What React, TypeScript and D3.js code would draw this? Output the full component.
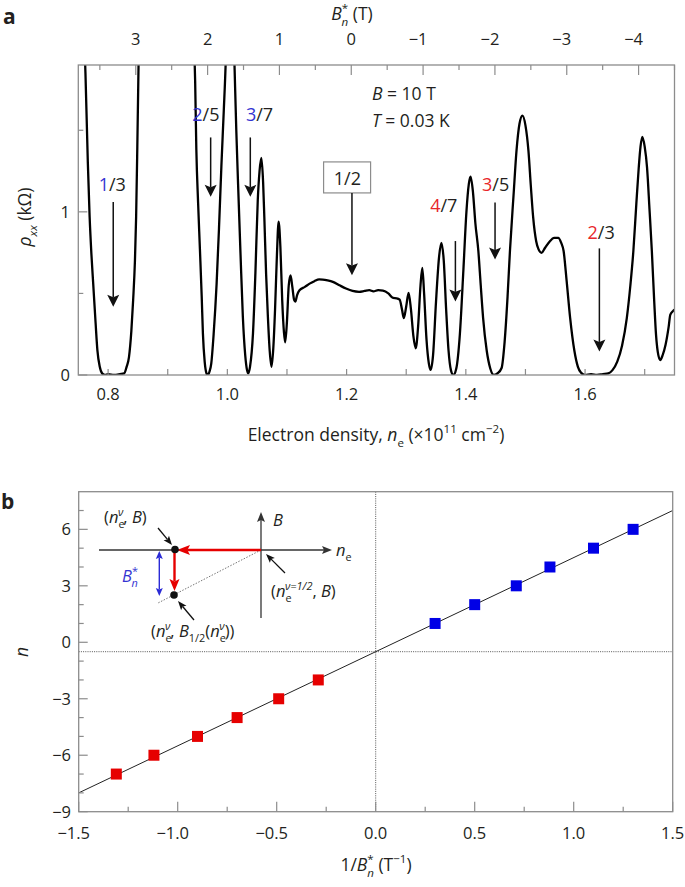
import React from "react";
import * as d3 from "d3";

// ---------- Panel a data: rho_xx vs electron density ----------
const densityValues = [
  0.750, 0.757, 0.762, 0.766, 0.769, 0.772, 0.775, 0.779, 0.782, 0.786, 0.790, 0.795, 0.800, 0.810, 0.820, 0.827,
  0.831, 0.835, 0.839, 0.842, 0.845, 0.847, 0.849, 0.851, 0.853, 0.858, 0.900, 0.938, 0.943, 0.946, 0.948, 0.951,
  0.954, 0.957, 0.959, 0.962, 0.965, 0.967, 0.970, 0.973, 0.977, 0.982, 0.986, 0.990, 0.994, 0.997, 1.000, 1.005,
  1.009, 1.012, 1.015, 1.018, 1.022, 1.026, 1.030, 1.033, 1.035, 1.038, 1.043, 1.047, 1.051, 1.054, 1.057, 1.060,
  1.062, 1.065, 1.068, 1.071, 1.074, 1.077, 1.080, 1.083, 1.086, 1.089, 1.092, 1.095, 1.097, 1.100, 1.103, 1.106,
  1.109, 1.112, 1.114, 1.117, 1.121, 1.130, 1.138, 1.146, 1.154, 1.160, 1.168, 1.177, 1.188, 1.199, 1.210, 1.221,
  1.230, 1.238, 1.245, 1.253, 1.261, 1.270, 1.278, 1.284, 1.289, 1.293, 1.296, 1.300, 1.304, 1.308, 1.312, 1.316,
  1.320, 1.324, 1.327, 1.330, 1.334, 1.338, 1.341, 1.345, 1.350, 1.355, 1.359, 1.363, 1.367, 1.371, 1.375, 1.379,
  1.384, 1.390, 1.396, 1.401, 1.405, 1.408, 1.412, 1.416, 1.421, 1.425, 1.429, 1.435, 1.441, 1.447, 1.453, 1.460,
  1.465, 1.470, 1.474, 1.480, 1.485, 1.490, 1.495, 1.500, 1.505, 1.509, 1.513, 1.518, 1.522, 1.527, 1.533, 1.541,
  1.548, 1.555, 1.560, 1.564, 1.569, 1.575, 1.582, 1.588, 1.593, 1.600, 1.610, 1.620, 1.630, 1.639, 1.646, 1.654,
  1.662, 1.670, 1.676, 1.681, 1.686, 1.690, 1.693, 1.696, 1.700, 1.704, 1.708, 1.712, 1.716, 1.719, 1.722, 1.726,
  1.730, 1.735, 1.740, 1.743, 1.748, 1.750,
];
const rhoValues = [
  2.80, 2.30, 1.85, 1.30, 0.97, 0.74, 0.56, 0.32, 0.153, 0.05, 0.01, 0.0, 0.005, 0.0, 0.005, 0.01,
  0.05, 0.11, 0.27, 0.46, 0.70, 0.97, 1.40, 1.89, 2.40, 3.00, 4.00, 3.00, 2.20, 1.80, 1.38, 1.05,
  0.77, 0.48, 0.255, 0.08, 0.01, 0.0, 0.02, 0.07, 0.25, 0.56, 0.90, 1.28, 1.62, 1.89, 2.30, 2.60,
  2.30, 1.90, 1.50, 1.17, 0.75, 0.357, 0.12, 0.03, 0.01, 0.05, 0.255, 0.62, 1.07, 1.25, 1.33, 1.18,
  0.97, 0.62, 0.357, 0.15, 0.05, 0.16, 0.40, 0.72, 0.94, 0.78, 0.46, 0.26, 0.20, 0.33, 0.55, 0.61,
  0.54, 0.46, 0.45, 0.49, 0.52, 0.54, 0.56, 0.575, 0.586, 0.585, 0.58, 0.571, 0.55, 0.53, 0.515, 0.51,
  0.515, 0.52, 0.513, 0.52, 0.517, 0.50, 0.472, 0.47, 0.462, 0.40, 0.349, 0.42, 0.503, 0.40, 0.24, 0.164,
  0.30, 0.55, 0.656, 0.50, 0.22, 0.07, 0.031, 0.12, 0.45, 0.72, 0.81, 0.70, 0.40, 0.15, 0.03, 0.0,
  0.04, 0.25, 0.65, 1.00, 1.17, 1.215, 1.12, 0.93, 0.76, 0.55, 0.349, 0.15, 0.04, 0.0, 0.01, 0.043,
  0.20, 0.48, 0.76, 1.10, 1.375, 1.54, 1.59, 1.53, 1.375, 1.16, 0.964, 0.82, 0.77, 0.749, 0.78, 0.82,
  0.84, 0.841, 0.81, 0.76, 0.58, 0.349, 0.15, 0.05, 0.015, 0.0, 0.005, 0.0, 0.005, 0.01, 0.03, 0.082,
  0.18, 0.349, 0.55, 0.76, 1.05, 1.27, 1.40, 1.46, 1.40, 1.27, 1.02, 0.76, 0.45, 0.247, 0.14, 0.092,
  0.12, 0.185, 0.29, 0.37, 0.394, 0.40,
];
const densityDomain = [0.75, 1.75];
const rhoDomain = [0, 1.9];
const densityTickLabels = [0.8, 1.0, 1.2, 1.4, 1.6];
const densityMinorTicks = [0.8, 0.9, 1.0, 1.1, 1.2, 1.3, 1.4, 1.5, 1.6, 1.7];
const rhoTickLabels = [0, 1];
const rhoMinorTicks = [0.5, 1.5];
const bStarDomain = [3.8, -4.5];
const bStarTickLabels = [3, 2, 1, 0, -1, -2, -3, -4];
const bStarMinorTicks = [3.5, 2.5, 1.5, 0.5, -0.5, -1.5, -2.5, -3.5, -4.5];

// fraction annotations (arrow x in density, arrow start/end in rho, label position)
const fracNumer = ["1", "2", "3", "4", "3", "2"];
const fracDenom = ["3", "5", "7", "7", "5", "3"];
const fracNumerColor = ["blue", "blue", "blue", "red", "red", "red"];
const fracArrowX = [0.8086, 0.972, 1.0385, 1.3825, 1.449, 1.624];
const fracArrowFrom = [1.061, 1.456, 1.456, 0.821, 1.057, 0.776];
const fracArrowTo = [0.418, 1.092, 1.092, 0.451, 0.708, 0.144];
const fracLabelX = [0.807, 0.964, 1.054, 1.363, 1.45, 1.627];
const fracLabelY = [1.127, 1.555, 1.555, 0.999, 1.128, 0.834];

// ---------- Panel b data ----------
const invBStarRed = [-1.31, -1.12, -0.9, -0.7, -0.49, -0.29];
const nRed = [-7, -6, -5, -4, -3, -2];
const invBStarBlue = [0.3, 0.5, 0.71, 0.88, 1.1, 1.3];
const nBlue = [1, 2, 3, 4, 5, 6];
const fitX = [-1.5, 1.5];
const fitN = [-8, 7];
const bXDomain = [-1.5, 1.5];
const bYDomain = [-9, 8];
const bXTickLabels = [-1.5, -1.0, -0.5, 0, 0.5, 1.0, 1.5];
const bXMinorTicks = [-1.25, -0.75, -0.25, 0.25, 0.75, 1.25];
const bYTickLabels = [-9, -6, -3, 0, 3, 6];
const bYMinorTicks = [-8, -7, -5, -4, -2, -1, 1, 2, 4, 5, 7];
const dottedX = 0;
const dottedY = -0.5;

const FONT = "'Open Sans', 'Noto Sans', 'DejaVu Sans', sans-serif";
const TXT = "#231f20";
const FRAME = "#8c8c8c";
const BLUE_TXT = "#3434d2";
const RED_TXT = "#e8262b";
const RED = "#e60000";
const BLUE = "#0000e6";
const TICK_FS = 16.5;
const TITLE_FS = 17.5;

const minus = (v: number, digits: number) => {
  const s = Math.abs(v).toFixed(digits);
  return v < 0 ? "\u2212" + s : s;
};

type Part = { t: string; i?: boolean; p?: "sub" | "sup"; dx?: number; fill?: string };
function Rich(props: {
  x: number; y: number; parts: Part[]; size?: number; anchor?: string; fill?: string; transform?: string;
}) {
  const { x, y, parts, size = 16, anchor = "start", fill = TXT, transform } = props;
  let cur = 0;
  return (
    <text x={x} y={y} fontSize={size} textAnchor={anchor} fill={fill} transform={transform} fontFamily={FONT}>
      {parts.map((p, k) => {
        const target = p.p === "sub" ? size * 0.32 : p.p === "sup" ? -size * 0.45 : 0;
        const dy = target - cur;
        cur = target;
        return (
          <tspan key={k} dy={dy} dx={p.dx} fontStyle={p.i ? "italic" : undefined}
            fontSize={p.p ? size * 0.66 : undefined} fill={p.fill}>{p.t}</tspan>
        );
      })}
    </text>
  );
}

function Arrow(props: {
  x1: number; y1: number; x2: number; y2: number; color?: string; width?: number; hl?: number; hw?: number; both?: boolean;
}) {
  const { x1, y1, x2, y2, color = "#111", width = 1.5, hl = 11, hw = 12, both = false } = props;
  const dx = x2 - x1, dy = y2 - y1;
  const L = Math.hypot(dx, dy);
  const ux = dx / L, uy = dy / L;
  const px = -uy, py = ux;
  const head = (tx: number, ty: number, sx: number, sy: number) => {
    const bx = tx - sx * hl, by = ty - sy * hl;
    const nx = tx - sx * hl * 0.8, ny = ty - sy * hl * 0.8;
    return `M${tx},${ty}L${bx + px * hw / 2},${by + py * hw / 2}L${nx},${ny}L${bx - px * hw / 2},${by - py * hw / 2}Z`;
  };
  const sx1 = both ? x1 + ux * hl * 0.8 : x1;
  const sy1 = both ? y1 + uy * hl * 0.8 : y1;
  return (
    <g>
      <line x1={sx1} y1={sy1} x2={x2 - ux * hl * 0.8} y2={y2 - uy * hl * 0.8} stroke={color} strokeWidth={width} />
      <path d={head(x2, y2, ux, uy)} fill={color} />
      {both && <path d={head(x1, y1, -ux, -uy)} fill={color} />}
    </g>
  );
}

function PanelA() {
  const L = 78.3, R = 674.5, T = 65, B = 375;
  const x = d3.scaleLinear().domain(densityDomain).range([L, R]);
  const y = d3.scaleLinear().domain(rhoDomain).range([B, T]);
  const xTop = d3.scaleLinear().domain(bStarDomain).range([L, R]);
  const pts = densityValues.map((d, i) => [d, rhoValues[i]] as [number, number]);
  const line = d3.line<[number, number]>().x((d) => x(d[0])).y((d) => y(d[1])).curve(d3.curveMonotoneX);
  return (
    <g>
      <text x={3} y={24} fontSize={21} fontWeight="bold" fontFamily={FONT} fill={TXT}>a</text>
      <defs>
        <clipPath id="clipA"><rect x={L} y={T} width={R - L} height={B - T} /></clipPath>
      </defs>
      <path d={line(pts) || ""} fill="none" stroke="#000" strokeWidth={2.3} clipPath="url(#clipA)" strokeLinejoin="round" />
      <rect x={L} y={T} width={R - L} height={B - T} fill="none" stroke={FRAME} strokeWidth={1.3} />
      {densityMinorTicks.map((v) => (
        <line key={"bx" + v} x1={x(v)} x2={x(v)} y1={B} y2={B - 6} stroke={FRAME} strokeWidth={1.2} />
      ))}
      {densityTickLabels.map((v) => (
        <text key={"bl" + v} x={x(v)} y={400} fontSize={TICK_FS} textAnchor="middle" fontFamily={FONT} fill={TXT}>{v.toFixed(1)}</text>
      ))}
      {rhoTickLabels.map((v) => (
        <g key={"ly" + v}>
          <line x1={L} x2={L + 9} y1={y(v)} y2={y(v)} stroke={FRAME} strokeWidth={1.2} />
          <text x={70} y={y(v) + 6} fontSize={TICK_FS} textAnchor="end" fontFamily={FONT} fill={TXT}>{v}</text>
        </g>
      ))}
      {rhoMinorTicks.map((v) => (
        <line key={"lm" + v} x1={L} x2={L + 5} y1={y(v)} y2={y(v)} stroke={FRAME} strokeWidth={1.2} />
      ))}
      {bStarTickLabels.map((v) => (
        <g key={"tb" + v}>
          <line x1={xTop(v)} x2={xTop(v)} y1={T} y2={T + 10} stroke={FRAME} strokeWidth={1.2} />
          <text x={xTop(v) - (v < 0 ? 5 : 0)} y={45} fontSize={TICK_FS} textAnchor="middle" fontFamily={FONT} fill={TXT}>
            {v < 0 ? "\u2212" + Math.abs(v) : String(v)}
          </text>
        </g>
      ))}
      {bStarMinorTicks.map((v) => (
        <line key={"tm" + v} x1={xTop(v)} x2={xTop(v)} y1={T} y2={T + 5} stroke={FRAME} strokeWidth={1.2} />
      ))}
      <Rich x={352} y={20} size={TITLE_FS} anchor="middle"
        parts={[{ t: "B", i: true }, { t: "*", p: "sup" }, { t: "n", i: true, p: "sub", dx: -6.5 }, { t: " (T)" }]} />
      <Rich x={376} y={441} size={TITLE_FS} anchor="middle"
        parts={[{ t: "Electron density, " }, { t: "n", i: true }, { t: "e", p: "sub" }, { t: " (\u00d710" },
          { t: "11", p: "sup" }, { t: " cm" }, { t: "\u22122", p: "sup" }, { t: ")" }]} />
      <Rich x={0} y={0} size={TITLE_FS} anchor="middle" transform="translate(31,217) rotate(-90)"
        parts={[{ t: "\u03c1", i: true }, { t: "xx", i: true, p: "sub" }, { t: " (k\u03a9)" }]} />
      <Rich x={372} y={100} size={TITLE_FS} parts={[{ t: "B", i: true }, { t: " = 10 T" }]} />
      <Rich x={372} y={127} size={TITLE_FS} parts={[{ t: "T", i: true }, { t: " = 0.03 K" }]} />
      {fracArrowX.map((v, i) => (
        <g key={"fa" + i}>
          <Arrow x1={x(v)} y1={y(fracArrowFrom[i])} x2={x(v)} y2={y(fracArrowTo[i])} width={1.5} hl={12} hw={12} />
          <text x={x(fracLabelX[i])} y={y(fracLabelY[i])} fontSize={18} textAnchor="middle" fontFamily={FONT} fill={TXT}>
            <tspan fill={fracNumerColor[i] === "blue" ? BLUE_TXT : RED_TXT}>{fracNumer[i]}</tspan>
            <tspan>/{fracDenom[i]}</tspan>
          </text>
        </g>
      ))}
      <rect x={x(1.2) - 23} y={y(1.306)} width={47} height={31} fill="#fff" stroke={FRAME} strokeWidth={1.2} />
      <text x={x(1.2) + 0.8} y={y(1.167)} fontSize={18} textAnchor="middle" fontFamily={FONT} fill={TXT}>1/2</text>
      <Arrow x1={x(1.209)} y1={y(1.116)} x2={x(1.209)} y2={y(0.612)} width={1.5} hl={12} hw={12} />
    </g>
  );
}

function Inset(props: { ox: number; oy: number }) {
  const { ox, oy } = props;
  const s = 16.5;
  return (
    <g transform={`translate(${ox},${oy})`}>
      <Arrow x1={-162} y1={0} x2={71} y2={0} color="#333" width={1.3} hl={10} hw={8} />
      <Arrow x1={0} y1={68} x2={0} y2={-38} color="#333" width={1.3} hl={10} hw={8} />
      <Rich x={12} y={-24} size={s} parts={[{ t: "B", i: true }]} />
      <Rich x={75} y={6} size={s} parts={[{ t: "n", i: true }, { t: "e", p: "sub" }]} />
      <line x1={0} y1={0} x2={-103} y2={53} stroke="#777" strokeWidth={1} strokeDasharray="1.5 1.5" />
      <Arrow x1={0} y1={0} x2={-84} y2={0} color={RED} width={2.4} hl={13} hw={10} />
      <Arrow x1={-86.5} y1={0} x2={-86.5} y2={41} color={RED} width={2.4} hl={12} hw={10} />
      <circle cx={-86} cy={-0.5} r={3.8} fill="#111" />
      <circle cx={-87} cy={45} r={3.8} fill="#111" />
      <Arrow x1={-101.7} y1={1} x2={-101.7} y2={46} color="#2b2bd6" width={1.4} hl={8} hw={7} both />
      <Rich x={-139} y={32} size={s} fill={BLUE_TXT}
        parts={[{ t: "B", i: true }, { t: "*", p: "sup" }, { t: "n", i: true, p: "sub", dx: -6.5 }]} />
      <Rich x={-157} y={-27} size={s}
        parts={[{ t: "(" }, { t: "n", i: true }, { t: "e", p: "sub" }, { t: "\u03bd", i: true, p: "sup", dx: -6.5 },
          { t: ", " }, { t: "B", i: true }, { t: ")" }]} />
      <Arrow x1={-103} y1={-22} x2={-89} y2={-5} color="#111" width={1.3} hl={9} hw={7} />
      <Rich x={10} y={47} size={s}
        parts={[{ t: "(" }, { t: "n", i: true }, { t: "e", p: "sub" }, { t: "\u03bd=1/2", i: true, p: "sup", dx: -6.5 },
          { t: ", " }, { t: "B", i: true }, { t: ")" }]} />
      <Arrow x1={24} y1={23} x2={5} y2={4} color="#111" width={1.3} hl={9} hw={7} />
      <Rich x={-110} y={87} size={s}
        parts={[{ t: "(" }, { t: "n", i: true }, { t: "e", p: "sub" }, { t: "\u03bd", i: true, p: "sup", dx: -6.5 },
          { t: ", " }, { t: "B", i: true }, { t: "1/2", p: "sub" }, { t: "(" }, { t: "n", i: true }, { t: "e", p: "sub" },
          { t: "\u03bd", i: true, p: "sup", dx: -6.5 }, { t: "))" }]} />
      <Arrow x1={-67} y1={70} x2={-83} y2={51} color="#111" width={1.3} hl={9} hw={7} />
    </g>
  );
}

function PanelB() {
  const L = 78.7, R = 672.7, T = 491.7, B = 811.7;
  const x = d3.scaleLinear().domain(bXDomain).range([L, R]);
  const y = d3.scaleLinear().domain(bYDomain).range([B, T]);
  const sq = 11;
  return (
    <g>
      <text x={1} y={509} fontSize={21} fontWeight="bold" fontFamily={FONT} fill={TXT}>b</text>
      <line x1={x(dottedX)} x2={x(dottedX)} y1={T} y2={B} stroke="#555" strokeWidth={1} strokeDasharray="1 1.2" />
      <line x1={L} x2={R} y1={y(dottedY)} y2={y(dottedY)} stroke="#555" strokeWidth={1} strokeDasharray="1 1.2" />
      <line x1={x(fitX[0])} y1={y(fitN[0])} x2={x(fitX[1])} y2={y(fitN[1])} stroke="#222" strokeWidth={1} />
      {invBStarRed.map((v, i) => (
        <rect key={"r" + i} x={x(v) - sq / 2} y={y(nRed[i]) - sq / 2} width={sq} height={sq} fill={RED} />
      ))}
      {invBStarBlue.map((v, i) => (
        <rect key={"b" + i} x={x(v) - sq / 2} y={y(nBlue[i]) - sq / 2} width={sq} height={sq} fill={BLUE} />
      ))}
      <rect x={L} y={T} width={R - L} height={B - T} fill="none" stroke={FRAME} strokeWidth={1.3} />
      {bXTickLabels.map((v) => (
        <g key={"bx" + v}>
          <line x1={x(v)} x2={x(v)} y1={B} y2={B - 10} stroke={FRAME} strokeWidth={1.2} />
          <text x={x(v) - (v < 0 ? 5 : 0)} y={839} fontSize={TICK_FS} textAnchor="middle" fontFamily={FONT} fill={TXT}>{minus(v, 1)}</text>
        </g>
      ))}
      {bXMinorTicks.map((v) => (
        <line key={"bxm" + v} x1={x(v)} x2={x(v)} y1={B} y2={B - 5} stroke={FRAME} strokeWidth={1.2} />
      ))}
      {bYTickLabels.map((v) => (
        <g key={"by" + v}>
          <line x1={L} x2={L + 9} y1={y(v)} y2={y(v)} stroke={FRAME} strokeWidth={1.2} />
          <text x={71} y={y(v) + 6} fontSize={TICK_FS} textAnchor="end" fontFamily={FONT} fill={TXT}>{minus(v, 0)}</text>
        </g>
      ))}
      {bYMinorTicks.map((v) => (
        <line key={"bym" + v} x1={L} x2={L + 5} y1={y(v)} y2={y(v)} stroke={FRAME} strokeWidth={1.2} />
      ))}
      <Rich x={0} y={0} size={TITLE_FS} anchor="middle" transform="translate(28,652) rotate(-90)" parts={[{ t: "n", i: true }]} />
      <Rich x={376} y={871} size={TITLE_FS} anchor="middle"
        parts={[{ t: "1/" }, { t: "B", i: true }, { t: "*", p: "sup" }, { t: "n", i: true, p: "sub", dx: -6.5 },
          { t: " (T" }, { t: "\u22121", p: "sup" }, { t: ")" }]} />
      <Inset ox={261} oy={550} />
    </g>
  );
}

export default function App() {
  return (
    <svg width={685} height={887} viewBox="0 0 685 887"
      style={{ position: "absolute", left: 0, top: 0, background: "#fff" }}>
      <rect x={0} y={0} width={685} height={887} fill="#fff" />
      <PanelA />
      <PanelB />
    </svg>
  );
}
